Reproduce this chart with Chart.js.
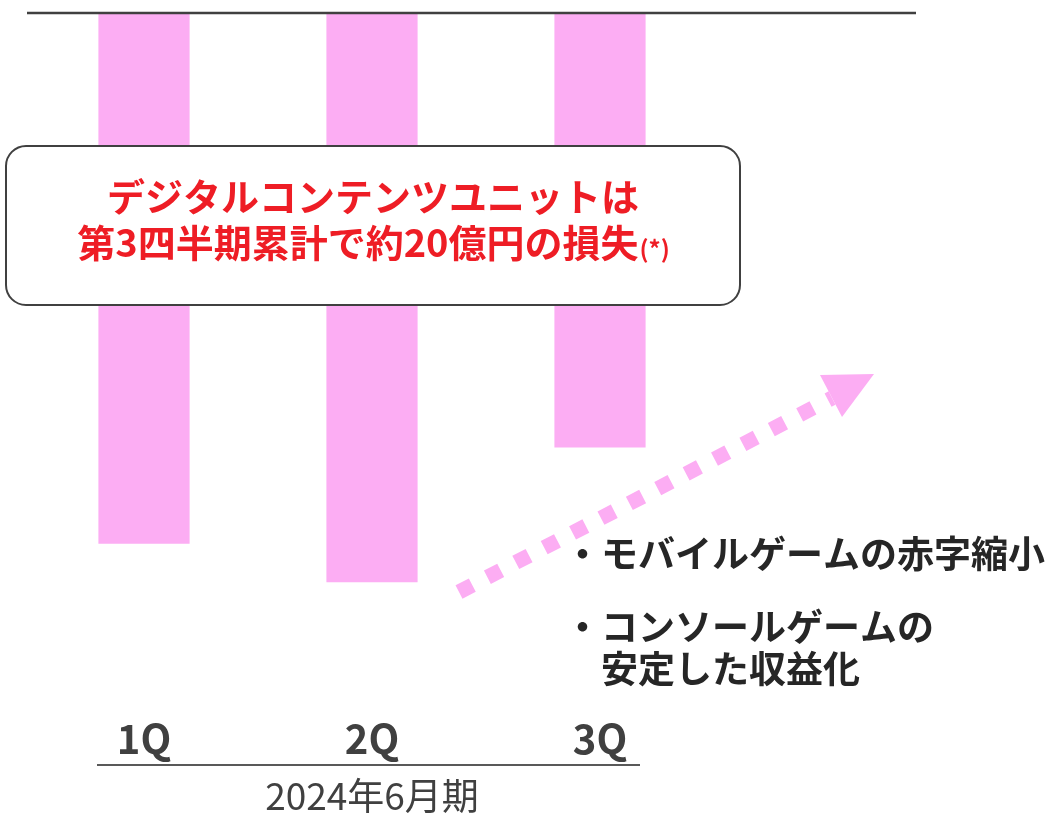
<!DOCTYPE html>
<html>
<head>
<meta charset="utf-8">
<script src="https://cdn.jsdelivr.net/npm/chart.js@4"></script>
<style>
  body { margin: 0; background: #fff; }
  canvas { display: block; }
</style>
</head>
<body>
<canvas id="chart" width="1053" height="818"></canvas>
<script>
const quarters = ["1Q", "2Q", "3Q"];
// 億円, losses (sum ~ -20)
const lossValues = [-6.9, -7.4, -5.65];
const periodLabel = "2024年6月期";
const boxLines = ["デジタルコンテンツユニットは", "第3四半期累計で約20億円の損失"];
const bullets = ["・モバイルゲームの赤字縮小", "・コンソールゲームの", "安定した収益化"];

const PINK = "#FCADF3";
const RED = "#EE1D25";
const DARK = "#404040";
const JP = '"Noto Sans CJK JP", "Noto Sans", sans-serif';

const overlay = {
  id: "overlay",
  afterDatasetsDraw(chart) {
    const ctx = chart.ctx;
    const y0 = chart.scales.y.getPixelForValue(0);
    ctx.save();

    // zero line
    ctx.strokeStyle = DARK;
    ctx.lineWidth = 2.5;
    ctx.beginPath();
    ctx.moveTo(27, y0);
    ctx.lineTo(916, y0);
    ctx.stroke();

    // callout box
    ctx.fillStyle = "#fff";
    ctx.strokeStyle = DARK;
    ctx.lineWidth = 2;
    ctx.beginPath();
    ctx.roundRect(6, 146, 734, 159, 20);
    ctx.fill();
    ctx.stroke();

    ctx.fillStyle = RED;
    ctx.textBaseline = "middle";
    ctx.textAlign = "center";
    ctx.font = "bold 38px " + JP;
    ctx.fillText(boxLines[0], 373, 197);
    const w2 = ctx.measureText(boxLines[1]).width;
    ctx.font = "bold 24px " + JP;
    const wStar = ctx.measureText("(*)").width;
    const x2 = 373 - (w2 + wStar) / 2;
    ctx.textAlign = "left";
    ctx.font = "bold 38px " + JP;
    ctx.fillText(boxLines[1], x2, 243);
    ctx.font = "bold 24px " + JP;
    ctx.fillText("(*)", x2 + w2 + 1, 249);

    // dotted arrow
    ctx.strokeStyle = PINK;
    ctx.lineWidth = 15;
    ctx.setLineDash([15, 17]);
    ctx.lineCap = "butt";
    ctx.beginPath();
    ctx.moveTo(459, 592);
    ctx.lineTo(832, 398);
    ctx.stroke();
    ctx.setLineDash([]);
    ctx.fillStyle = PINK;
    ctx.beginPath();
    ctx.moveTo(820, 375);
    ctx.lineTo(874, 374);
    ctx.lineTo(842, 417);
    ctx.closePath();
    ctx.fill();

    // bullet text
    ctx.fillStyle = "#262626";
    ctx.font = "bold 37px " + JP;
    ctx.textAlign = "left";
    ctx.fillText(bullets[0], 564, 554);
    ctx.fillText(bullets[1], 564, 627);
    ctx.fillText(bullets[2], 601, 669);

    // period axis line
    ctx.strokeStyle = "#595959";
    ctx.lineWidth = 2;
    ctx.beginPath();
    ctx.moveTo(97, 765);
    ctx.lineTo(640, 765);
    ctx.stroke();

    ctx.restore();
  }
};

new Chart(document.getElementById("chart"), {
  type: "bar",
  data: {
    labels: quarters,
    datasets: [{ data: lossValues, backgroundColor: PINK, borderWidth: 0 }]
  },
  options: {
    responsive: false,
    animation: false,
    layout: { padding: { top: 13, left: 30, right: 339, bottom: 0 } },
    plugins: { legend: { display: false }, tooltip: { enabled: false } },
    datasets: { bar: { categoryPercentage: 1, barPercentage: 0.4 } },
    scales: {
      y: { display: false, min: -9.1, max: 0 },
      x: {
        afterFit: (scale) => { scale.height = 105; },
        grid: { display: false, drawTicks: false },
        border: { display: false },
        ticks: {
          padding: 2,
          color: DARK,
          font: { family: JP, size: 40, weight: "bold" }
        },
        title: {
          display: true,
          text: periodLabel,
          color: DARK,
          padding: { top: 0, bottom: 0 },
          font: { family: JP, size: 37, weight: "normal" }
        }
      }
    }
  },
  plugins: [overlay]
});
</script>
</body>
</html>
